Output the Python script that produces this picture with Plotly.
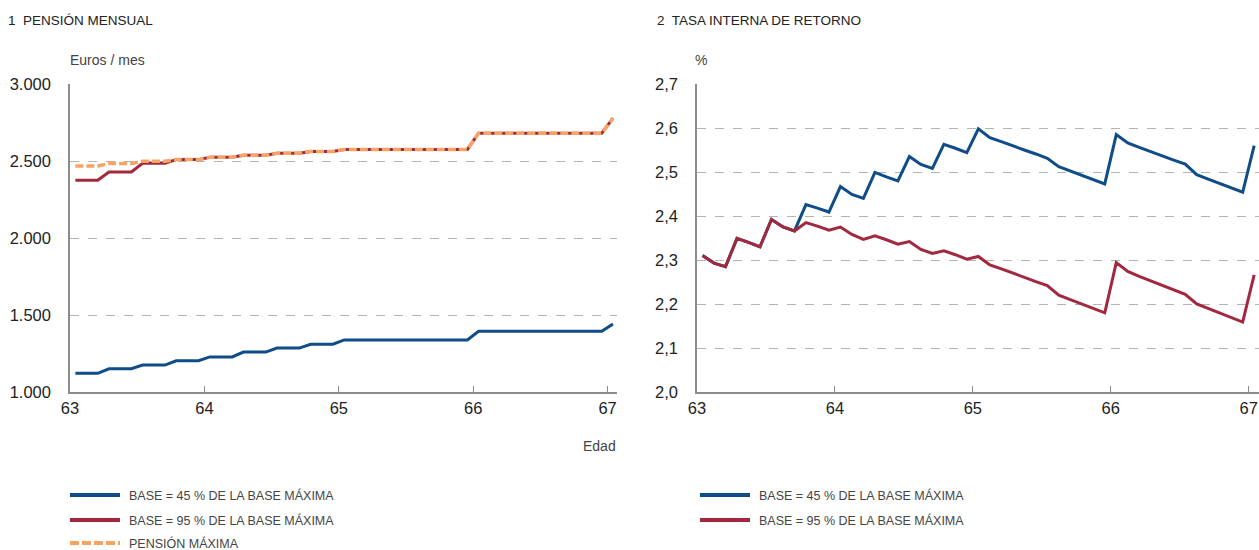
import plotly.graph_objects as go

# Age in months from 63 to 67 (49 monthly points)
EDAD = [63.04 + m / 12 for m in range(49)]

# Panel 1: monthly pension (euros / month)
PENSION_45 = [1121, 1121, 1121, 1151, 1151, 1151, 1175, 1175, 1175, 1203, 1203, 1203,
              1228, 1228, 1228, 1259, 1259, 1259, 1285, 1285, 1285, 1310, 1310, 1310,
              1338, 1338, 1338, 1338, 1338, 1338, 1338, 1338, 1338, 1338, 1338, 1338,
              1394, 1394, 1394, 1394, 1394, 1394, 1394, 1394, 1394, 1394, 1394, 1394, 1442]
PENSION_95 = [2375, 2375, 2375, 2429, 2429, 2429, 2485, 2485, 2485, 2509, 2509, 2509,
              2524, 2524, 2524, 2537, 2537, 2537, 2550, 2550, 2550, 2562, 2562, 2562,
              2575, 2575, 2575, 2575, 2575, 2575, 2575, 2575, 2575, 2575, 2575, 2575,
              2681, 2681, 2681, 2681, 2681, 2681, 2681, 2681, 2681, 2681, 2681, 2681, 2778]
PENSION_MAX = [2468, 2468, 2468, 2483, 2483, 2483, 2498, 2498, 2498, 2509, 2509, 2509,
               2524, 2524, 2524, 2537, 2537, 2537, 2550, 2550, 2550, 2562, 2562, 2562,
               2575, 2575, 2575, 2575, 2575, 2575, 2575, 2575, 2575, 2575, 2575, 2575,
               2681, 2681, 2681, 2681, 2681, 2681, 2681, 2681, 2681, 2681, 2681, 2681, 2778]

# Panel 2: internal rate of return (%)
TIR_45 = [2.310, 2.293, 2.285, 2.349, 2.340, 2.330, 2.392, 2.375, 2.366, 2.426, 2.418, 2.409,
          2.467, 2.449, 2.440, 2.499, 2.489, 2.480, 2.535, 2.517, 2.508, 2.563, 2.554, 2.544,
          2.598, 2.578, 2.569, 2.559, 2.550, 2.541, 2.531, 2.512, 2.502, 2.492, 2.482, 2.473,
          2.585, 2.566, 2.556, 2.546, 2.537, 2.527, 2.518, 2.494, 2.484, 2.474, 2.464, 2.454, 2.560]
TIR_95 = [2.310, 2.293, 2.285, 2.349, 2.340, 2.330, 2.392, 2.375, 2.366, 2.385, 2.377, 2.368,
          2.375, 2.358, 2.347, 2.355, 2.346, 2.336, 2.342, 2.324, 2.315, 2.321, 2.312, 2.302,
          2.308, 2.289, 2.280, 2.270, 2.261, 2.251, 2.242, 2.220, 2.210, 2.200, 2.190, 2.180,
          2.294, 2.274, 2.263, 2.253, 2.243, 2.232, 2.222, 2.200, 2.190, 2.180, 2.169, 2.159, 2.266]

X_TICKS = [63, 64, 65, 66, 67]
Y1_TICKS = [1000, 1500, 2000, 2500, 3000]
Y1_LABELS = ["1.000", "1.500", "2.000", "2.500", "3.000"]
Y2_TICKS = [2.0, 2.1, 2.2, 2.3, 2.4, 2.5, 2.6, 2.7]
Y2_LABELS = ["2,0", "2,1", "2,2", "2,3", "2,4", "2,5", "2,6", "2,7"]

LEG_45 = "BASE = 45 % DE LA BASE MÁXIMA"
LEG_95 = "BASE = 95 % DE LA BASE MÁXIMA"
LEG_MAX = "PENSIÓN MÁXIMA"

BLUE = "#0f4c88"
RED = "#a2283f"
ORANGE = "#f5a464"
FONT = "Liberation Sans, Arial, Helvetica, sans-serif"
NARROW = "Liberation Sans Narrow, Arial Narrow, Liberation Sans, sans-serif"

W, H = 1259, 550


def px(x):
    return x / W


def py(y):
    return 1 - y / H


fig = go.Figure()

fig.add_trace(go.Scatter(x=EDAD, y=PENSION_45, mode="lines", name=LEG_45,
                         line=dict(color=BLUE, width=3), xaxis="x", yaxis="y", showlegend=False))
fig.add_trace(go.Scatter(x=EDAD, y=PENSION_95, mode="lines", name=LEG_95,
                         line=dict(color=RED, width=3), xaxis="x", yaxis="y", showlegend=False))
fig.add_trace(go.Scatter(x=EDAD, y=PENSION_MAX, mode="lines", name=LEG_MAX,
                         line=dict(color=ORANGE, width=3.5, dash="8px,3px"), xaxis="x", yaxis="y",
                         showlegend=False))
fig.add_trace(go.Scatter(x=EDAD, y=TIR_45, mode="lines", name=LEG_45,
                         line=dict(color=BLUE, width=3), xaxis="x2", yaxis="y2", showlegend=False))
fig.add_trace(go.Scatter(x=EDAD, y=TIR_95, mode="lines", name=LEG_95,
                         line=dict(color=RED, width=3), xaxis="x2", yaxis="y2", showlegend=False))

ydom = [py(392), py(84)]
axis_common = dict(showline=True, linecolor="#8c8c8c", linewidth=1.5, automargin=False,
                   tickfont=dict(family=FONT, size=16.5, color="#222222"))

fig.update_layout(
    width=W, height=H,
    margin=dict(l=0, r=0, t=0, b=0, pad=0, autoexpand=False),
    paper_bgcolor="white", plot_bgcolor="white",
    showlegend=False,
    xaxis=dict(domain=[px(70), px(617)], range=[63, 67.07], tickvals=X_TICKS,
               ticktext=[str(v) for v in X_TICKS], ticks="inside", ticklen=6,
               tickcolor="#8c8c8c", showgrid=False, zeroline=False, anchor="y",
               ticklabeloverflow="allow", **axis_common),
    yaxis=dict(domain=ydom, range=[1000, 3000], tickvals=Y1_TICKS, ticktext=Y1_LABELS,
               showgrid=True, gridcolor="#b4b4b4", griddash="dash", gridwidth=1,
               zeroline=False, ticks="", ticklabelstandoff=14, anchor="x", **axis_common),
    xaxis2=dict(domain=[px(697), 1.0], range=[63, 67.075], tickvals=X_TICKS,
                ticktext=[str(v) for v in X_TICKS], ticks="inside", ticklen=6,
                tickcolor="#8c8c8c", showgrid=False, zeroline=False, anchor="y2",
                ticklabeloverflow="allow", **axis_common),
    yaxis2=dict(domain=ydom, range=[2.0, 2.7], tickvals=Y2_TICKS, ticktext=Y2_LABELS,
                showgrid=True, gridcolor="#b4b4b4", griddash="dash", gridwidth=1,
                zeroline=False, ticks="", ticklabelstandoff=14, anchor="x2", **axis_common),
)

annotations = [
    dict(text="1  PENSIÓN MENSUAL", x=px(6), y=py(20), xanchor="left", yanchor="middle",
         font=dict(family=FONT, size=13.5, color="#222222")),
    dict(text="2  TASA INTERNA DE RETORNO", x=px(655), y=py(20), xanchor="left", yanchor="middle",
         font=dict(family=FONT, size=13.5, color="#222222")),
    dict(text="Euros / mes", x=px(68), y=py(60), xanchor="left", yanchor="middle",
         font=dict(family=FONT, size=14, color="#444444")),
    dict(text="%", x=px(693), y=py(60), xanchor="left", yanchor="middle",
         font=dict(family=FONT, size=14, color="#444444")),
    dict(text="Edad", x=px(618), y=py(446), xanchor="right", yanchor="middle",
         font=dict(family=FONT, size=14, color="#444444")),
]

shapes = []
legend_items = [
    (70, 495, BLUE, "solid", LEG_45),
    (70, 520, RED, "solid", LEG_95),
    (70, 543, ORANGE, "9px,3px", LEG_MAX),
    (700, 495, BLUE, "solid", LEG_45),
    (700, 520, RED, "solid", LEG_95),
]
for x0, yy, col, dash, label in legend_items:
    shapes.append(dict(type="line", xref="paper", yref="paper", x0=px(x0), x1=px(x0 + 50),
                       y0=py(yy), y1=py(yy), line=dict(color=col, width=4, dash=dash)))
    annotations.append(dict(text=label, x=px(x0 + 57), y=py(yy), xanchor="left", yanchor="middle",
                            font=dict(family=NARROW, size=12.5, color="#444444")))

for a in annotations:
    a.update(xref="paper", yref="paper", showarrow=False)

fig.update_layout(annotations=annotations, shapes=shapes)

fig.write_html("out.html", config={"displayModeBar": False},
               post_script="document.body.style.margin='0';document.body.style.overflow='hidden';")
